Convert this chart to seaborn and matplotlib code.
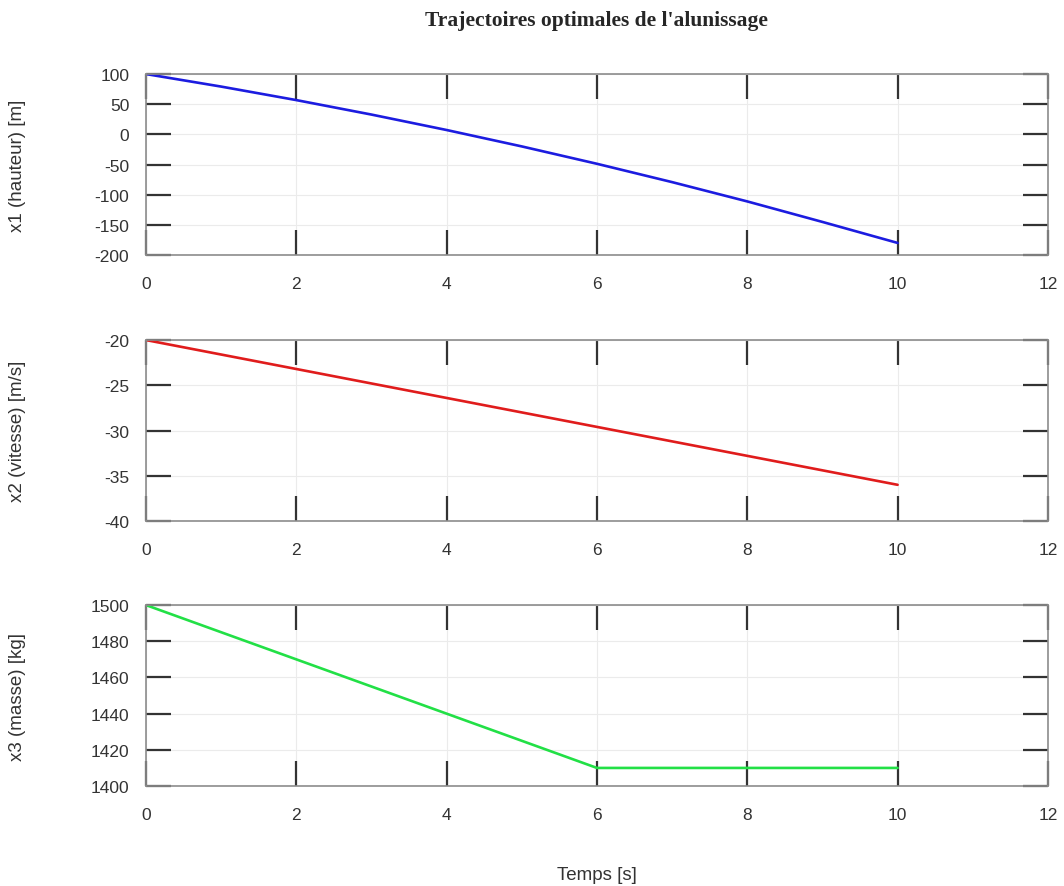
import numpy as np
import pandas as pd
import seaborn as sns
import matplotlib.pyplot as plt

# values
temps = [0, 1, 2, 3, 4, 5, 6, 7, 8, 9, 10]
hauteur = [100, 79.2, 56.8, 32.8, 7.2, -20, -48.8, -79.2, -111.2, -145.2, -180]
vitesse = [-20, -21.6, -23.2, -24.8, -26.4, -28, -29.6, -31.2, -32.8, -34.4, -36]
masse = [1500, 1485, 1470, 1455, 1440, 1425, 1410, 1410, 1410, 1410, 1410]

ylabels = ['x1 (hauteur) [m]', 'x2 (vitesse) [m/s]', 'x3 (masse) [kg]']
colors = ['#1c1ce0', '#e01c1c', '#22e046']
ylims = [(-200, 100), (-40, -20), (1400, 1500)]
ysteps = [50, 5, 20]

sns.set_style('white')
plt.rcParams['font.family'] = ['Liberation Sans', 'DejaVu Sans']
plt.rcParams['axes.unicode_minus'] = False

df = pd.DataFrame({'t': temps, 'x1': hauteur, 'x2': vitesse, 'x3': masse})

fig = plt.figure(figsize=(10.64, 8.87), dpi=100)
left, width = 0.1372, 0.8477
bottoms = [0.7114, 0.4115, 0.1127]
height = 0.204

for i, col in enumerate(['x1', 'x2', 'x3']):
    ax = fig.add_axes([left, bottoms[i], width, height])
    sns.lineplot(data=df, x='t', y=col, ax=ax, color=colors[i], linewidth=1.9)
    ax.set_xlim(0, 12)
    ax.set_ylim(*ylims[i])
    ax.set_xticks(np.arange(0, 13, 2))
    ax.set_yticks(np.arange(ylims[i][0], ylims[i][1] + 1, ysteps[i]))
    ax.grid(True, color='#ebebeb', linewidth=0.8)
    ax.tick_params(direction='in', length=18, width=1.6, color='#333333',
                   top=True, right=True, bottom=True, left=True,
                   labelsize=12.5, labelcolor='#333333')
    ax.tick_params(axis='x', pad=15)
    ax.tick_params(axis='y', pad=12)
    for s in ax.spines.values():
        s.set_color('#8c8c8c')
        s.set_linewidth(1.2)
    ax.set_ylabel(ylabels[i], fontsize=13.5, color='#333333')
    ax.yaxis.set_label_coords(-0.133, 0.5)
    ax.set_xlabel('')
    if i == 2:
        ax.set_xlabel('Temps [s]', fontsize=13.5, color='#333333', labelpad=32)

fig.suptitle("Trajectoires optimales de l'alunissage", x=0.561, y=0.988,
             fontsize=15.5, fontweight='bold', family='Liberation Serif')

fig.savefig('out.png', dpi=100)
